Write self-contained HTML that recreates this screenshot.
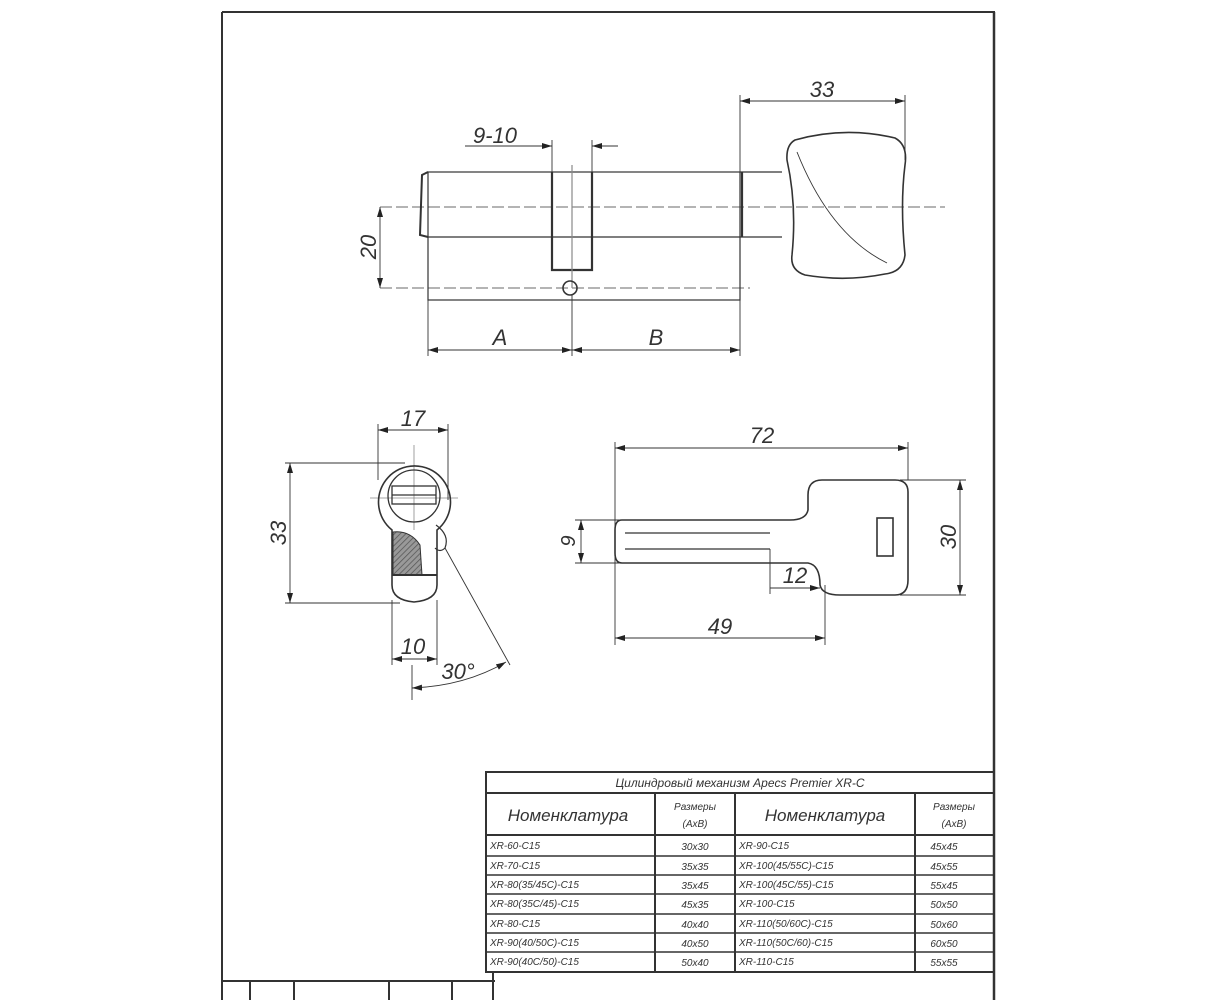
<!DOCTYPE html>
<html><head><meta charset="utf-8"><style>
html,body{margin:0;padding:0;background:#fff;width:1223px;height:1000px;overflow:hidden}
svg{display:block}
text{font-family:"Liberation Sans",sans-serif;font-style:italic;fill:#333;font-weight:normal;stroke:none}
</style></head><body>
<svg width="1223" height="1000" viewBox="0 0 1223 1000" xmlns="http://www.w3.org/2000/svg">
<defs>
<marker id="a" viewBox="0 0 10 6" refX="10" refY="3" markerWidth="10" markerHeight="6" orient="auto-start-reverse" markerUnits="userSpaceOnUse"><path d="M0,0 L10,3 L0,6 z" fill="#222"/></marker>
<pattern id="h" width="4" height="4" patternUnits="userSpaceOnUse" patternTransform="rotate(45)"><rect width="4" height="4" fill="#999"/><line x1="0" y1="0" x2="0" y2="4" stroke="#555" stroke-width="1.5"/></pattern>
</defs>
<g fill="none" stroke="#333" stroke-width="1.2">
<line x1="222" y1="12" x2="222" y2="1000" stroke-width="2"/>
<line x1="222" y1="12" x2="995" y2="12" stroke-width="2"/>
<line x1="994" y1="12" x2="994" y2="1000" stroke-width="2.5"/>
<line x1="222" y1="981" x2="495" y2="981" stroke-width="2"/>
<line x1="250" y1="981" x2="250" y2="1000" stroke-width="2"/>
<line x1="294" y1="981" x2="294" y2="1000" stroke-width="2"/>
<line x1="389" y1="981" x2="389" y2="1000" stroke-width="2"/>
<line x1="452" y1="981" x2="452" y2="1000" stroke-width="2"/>
<line x1="493" y1="972" x2="493" y2="1000" stroke-width="2"/>
<rect x="486" y="772" width="508" height="200" stroke-width="2"/>
<line x1="486" y1="793" x2="994" y2="793" stroke-width="2"/>
<line x1="486" y1="835" x2="994" y2="835" stroke-width="2"/>
<line x1="486" y1="856" x2="994" y2="856" stroke-width="1.5"/>
<line x1="486" y1="875" x2="994" y2="875" stroke-width="1.5"/>
<line x1="486" y1="894" x2="994" y2="894" stroke-width="1.5"/>
<line x1="486" y1="914" x2="994" y2="914" stroke-width="1.5"/>
<line x1="486" y1="933" x2="994" y2="933" stroke-width="1.5"/>
<line x1="486" y1="952" x2="994" y2="952" stroke-width="1.5"/>
<line x1="655" y1="793" x2="655" y2="972" stroke-width="2"/>
<line x1="735" y1="793" x2="735" y2="972" stroke-width="2"/>
<line x1="915" y1="793" x2="915" y2="972" stroke-width="2"/>

<line x1="380" y1="207" x2="945" y2="207" stroke-dasharray="12,4" stroke="#888"/>
<line x1="380" y1="288" x2="750" y2="288" stroke-dasharray="12,4" stroke="#888"/>
<rect x="428" y="172" width="312" height="128"/>
<path d="M428,172 L422,175 L420,235 L428,237" stroke-width="2"/>
<line x1="428" y1="237" x2="740" y2="237"/>
<path d="M552,172 L552,270 L592,270 L592,172" stroke-width="2.2"/>
<line x1="572" y1="165" x2="572" y2="288" stroke="#888"/>
<circle cx="570" cy="288" r="7" stroke-width="1.6"/>
<path d="M740,172 L782,172 M740,237 L782,237" />
<line x1="742" y1="172" x2="742" y2="237" stroke-width="2.2"/>
<path d="M795,140 Q845,126 895,138 Q908,145 905,165 Q900,205 905,255 Q903,272 885,274 Q845,282 805,275 Q790,270 792,255 Q797,205 787,160 Q786,145 795,140 Z" stroke-width="1.6"/>
<path d="M797,152 Q830,235 887,263" stroke-width="0.9"/>
<line x1="740" y1="95" x2="740" y2="172" stroke-width="0.9"/>
<line x1="905" y1="95" x2="905" y2="160" stroke-width="0.9"/>
<line x1="740" y1="101" x2="905" y2="101" stroke-width="0.9" marker-start="url(#a)" marker-end="url(#a)"/>
<text x="822" y="97" font-size="22" text-anchor="middle">33</text>
<line x1="552" y1="140" x2="552" y2="172" stroke-width="0.9"/>
<line x1="592" y1="140" x2="592" y2="172" stroke-width="0.9"/>
<line x1="465" y1="146" x2="552" y2="146" stroke-width="0.9" marker-end="url(#a)"/>
<line x1="592" y1="146" x2="618" y2="146" stroke-width="0.9"/>
<line x1="606" y1="146" x2="592" y2="146" stroke-width="0.9" marker-end="url(#a)"/>
<text x="495" y="143" font-size="22" text-anchor="middle">9-10</text>
<line x1="380" y1="207" x2="380" y2="288" stroke-width="0.9" marker-start="url(#a)" marker-end="url(#a)"/>
<text font-size="22" text-anchor="middle" transform="translate(376,247) rotate(-90)">20</text>
<line x1="428" y1="300" x2="428" y2="356" stroke-width="0.9"/>
<line x1="740" y1="300" x2="740" y2="356" stroke-width="0.9"/>
<line x1="572" y1="295" x2="572" y2="356" stroke-width="0.9"/>
<line x1="428" y1="350" x2="572" y2="350" stroke-width="0.9" marker-start="url(#a)" marker-end="url(#a)"/>
<line x1="572" y1="350" x2="740" y2="350" stroke-width="0.9" marker-start="url(#a)" marker-end="url(#a)"/>
<text x="500" y="345" font-size="22" text-anchor="middle">A</text>
<text x="656" y="345" font-size="22" text-anchor="middle">B</text>

<line x1="414" y1="445" x2="414" y2="530" stroke="#888" stroke-width="0.8"/>
<line x1="370" y1="498" x2="458" y2="498" stroke="#888" stroke-width="0.8"/>
<path d="M392,530 A36,36 0 1 1 437,530 L437,585 Q437,600 414,602 Q392,600 392,585 Z" stroke-width="1.6"/>
<circle cx="414" cy="496" r="26" stroke-width="1.3"/>
<rect x="392" y="486" width="44" height="18" stroke-width="1.3"/>
<line x1="392" y1="495" x2="436" y2="495"/>
<path d="M393,532 Q410,530 420,545 L422,575 L393,575 Z" fill="url(#h)" stroke-width="1"/>
<line x1="392" y1="575" x2="437" y2="575" stroke-width="2"/>
<path d="M436,525 Q450,535 445,548 Q440,553 435,548" stroke-width="1.2"/>
<line x1="378" y1="424" x2="378" y2="480" stroke-width="0.9"/>
<line x1="448" y1="424" x2="448" y2="500" stroke-width="0.9"/>
<line x1="378" y1="430" x2="448" y2="430" stroke-width="0.9" marker-start="url(#a)" marker-end="url(#a)"/>
<text x="413" y="426" font-size="22" text-anchor="middle">17</text>
<line x1="285" y1="463" x2="405" y2="463" stroke-width="0.9"/>
<line x1="285" y1="603" x2="400" y2="603" stroke-width="0.9"/>
<line x1="290" y1="463" x2="290" y2="603" stroke-width="0.9" marker-start="url(#a)" marker-end="url(#a)"/>
<text font-size="22" text-anchor="middle" transform="translate(286,533) rotate(-90)">33</text>
<line x1="392" y1="600" x2="392" y2="665" stroke-width="0.9"/>
<line x1="437" y1="600" x2="437" y2="665" stroke-width="0.9"/>
<line x1="392" y1="659" x2="437" y2="659" stroke-width="0.9" marker-start="url(#a)" marker-end="url(#a)"/>
<text x="413" y="654" font-size="22" text-anchor="middle">10</text>
<line x1="412" y1="665" x2="412" y2="700" stroke-width="0.9"/>
<line x1="445" y1="548" x2="510" y2="665" stroke-width="0.9"/>
<path d="M412,688 Q465,686 506,662" stroke-width="0.9" marker-start="url(#a)" marker-end="url(#a)"/>
<text x="458" y="679" font-size="22" text-anchor="middle">30°</text>

<path d="M790,520 L622,520 Q615,520 615,530 L615,553 Q615,563 622,563 L808,563 Q820,565 820,585 Q822,595 840,595 L895,595 Q908,595 908,580 L908,492 Q908,480 895,480 L822,480 Q808,480 808,495 L808,510 Q806,520 790,520 Z" stroke-width="1.6"/>
<line x1="625" y1="533" x2="770" y2="533"/>
<line x1="625" y1="549" x2="770" y2="549"/>
<rect x="877" y="518" width="16" height="38" stroke-width="1.6"/>
<line x1="615" y1="442" x2="615" y2="645" stroke-width="0.9"/>
<line x1="908" y1="442" x2="908" y2="480" stroke-width="0.9"/>
<line x1="615" y1="448" x2="908" y2="448" stroke-width="0.9" marker-start="url(#a)" marker-end="url(#a)"/>
<text x="762" y="443" font-size="22" text-anchor="middle">72</text>
<line x1="900" y1="480" x2="966" y2="480" stroke-width="0.9"/>
<line x1="900" y1="595" x2="966" y2="595" stroke-width="0.9"/>
<line x1="960" y1="480" x2="960" y2="595" stroke-width="0.9" marker-start="url(#a)" marker-end="url(#a)"/>
<text font-size="22" text-anchor="middle" transform="translate(956,537) rotate(-90)">30</text>
<line x1="575" y1="520" x2="622" y2="520" stroke-width="0.9"/>
<line x1="575" y1="563" x2="622" y2="563" stroke-width="0.9"/>
<line x1="581" y1="520" x2="581" y2="563" stroke-width="0.9" marker-start="url(#a)" marker-end="url(#a)"/>
<text font-size="20" text-anchor="middle" transform="translate(575,541) rotate(-90)">9</text>
<line x1="770" y1="549" x2="770" y2="594" stroke-width="0.9"/>
<line x1="825" y1="585" x2="825" y2="645" stroke-width="0.9"/>
<line x1="770" y1="588" x2="820" y2="588" stroke-width="0.9" marker-end="url(#a)"/>
<text x="795" y="583" font-size="22" text-anchor="middle">12</text>
<line x1="615" y1="638" x2="825" y2="638" stroke-width="0.9" marker-start="url(#a)" marker-end="url(#a)"/>
<text x="720" y="634" font-size="22" text-anchor="middle">49</text>
</g>
<g font-size="10" fill="#444">
<text x="740" y="787" text-anchor="middle" font-size="12">Цилиндровый механизм Apecs Premier XR-C</text>
<text x="568" y="821" text-anchor="middle" font-size="17">Номенклатура</text>
<text x="825" y="821" text-anchor="middle" font-size="17">Номенклатура</text>
<text x="695" y="810" text-anchor="middle">Размеры</text>
<text x="695" y="827" text-anchor="middle">(АхВ)</text>
<text x="954" y="810" text-anchor="middle">Размеры</text>
<text x="954" y="827" text-anchor="middle">(АхВ)</text>
<text x="490" y="849">XR-60-C15</text><text x="695" y="850" text-anchor="middle">30x30</text><text x="739" y="849">XR-90-C15</text><text x="944" y="850" text-anchor="middle">45x45</text>
<text x="490" y="869">XR-70-C15</text><text x="695" y="870" text-anchor="middle">35x35</text><text x="739" y="869">XR-100(45/55C)-C15</text><text x="944" y="870" text-anchor="middle">45x55</text>
<text x="490" y="888">XR-80(35/45C)-C15</text><text x="695" y="889" text-anchor="middle">35x45</text><text x="739" y="888">XR-100(45C/55)-C15</text><text x="944" y="889" text-anchor="middle">55x45</text>
<text x="490" y="907">XR-80(35C/45)-C15</text><text x="695" y="908" text-anchor="middle">45x35</text><text x="739" y="907">XR-100-C15</text><text x="944" y="908" text-anchor="middle">50x50</text>
<text x="490" y="927">XR-80-C15</text><text x="695" y="928" text-anchor="middle">40x40</text><text x="739" y="927">XR-110(50/60C)-C15</text><text x="944" y="928" text-anchor="middle">50x60</text>
<text x="490" y="946">XR-90(40/50C)-C15</text><text x="695" y="947" text-anchor="middle">40x50</text><text x="739" y="946">XR-110(50C/60)-C15</text><text x="944" y="947" text-anchor="middle">60x50</text>
<text x="490" y="965">XR-90(40C/50)-C15</text><text x="695" y="966" text-anchor="middle">50x40</text><text x="739" y="965">XR-110-C15</text><text x="944" y="966" text-anchor="middle">55x55</text>
</g>
</svg>
</body></html>
